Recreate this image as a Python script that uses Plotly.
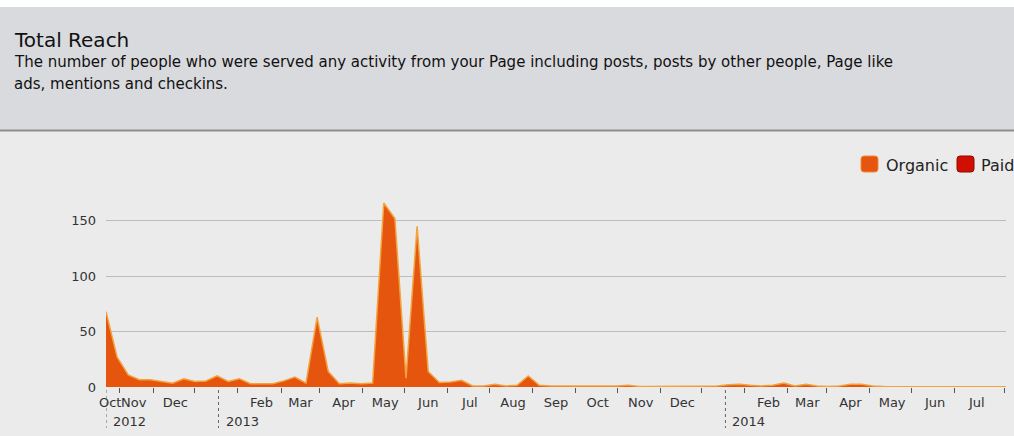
import pandas as pd
import plotly.graph_objects as go

# ---------------- data ----------------
start_date = "2012-10-12"
organic = [68, 27, 11, 6.5, 6.5, 5, 3.5, 7.5, 5, 5.5, 10, 5, 7.5, 3, 3, 3, 5.5, 9, 3.5, 63,
           14, 3, 3.5, 3, 3.5, 166, 152, 8, 145, 14, 4, 4.5, 6, 1, 1, 2.5, 1, 1.5, 10, 1.5,
           1, 1, 0.5, 1, 0.5, 0.5, 1, 1.5, 0.5, 0.5, 0.5, 1, 0.5, 0.5, 0.5, 1, 2, 2.5, 1.5, 1,
           1.5, 3.5, 1, 2.5, 1, 0.5, 1, 2.5, 2.5, 1, 0.5, 0.5, 0.5, 0.5, 0.3, 0.3, 0.3, 0.3, 0.3, 0.3,
           0.3, 0.3]
dates = pd.date_range(start_date, periods=len(organic), freq="8D")

x_range = ["2012-10-12", "2014-07-22"]
month_label_dates = ["2012-10-15", "2012-11-01", "2012-12-01", "2013-02-01", "2013-03-01",
                     "2013-04-01", "2013-05-01", "2013-06-01", "2013-07-01", "2013-08-01",
                     "2013-09-01", "2013-10-01", "2013-11-01", "2013-12-01", "2014-02-01",
                     "2014-03-01", "2014-04-01", "2014-05-01", "2014-06-01", "2014-07-01"]
month_labels = ["Oct", "Nov", "Dec", "Feb", "Mar", "Apr", "May", "Jun", "Jul", "Aug", "Sep",
                "Oct", "Nov", "Dec", "Feb", "Mar", "Apr", "May", "Jun", "Jul"]
tick_mark_dates = ["2012-10-22", "2012-11-15", "2012-12-15", "2013-01-15", "2013-02-15",
                   "2013-03-15", "2013-04-15", "2013-05-15", "2013-06-15", "2013-07-15",
                   "2013-08-15", "2013-09-15", "2013-10-15", "2013-11-15", "2013-12-15",
                   "2014-01-15", "2014-02-15", "2014-03-15", "2014-04-15", "2014-05-15",
                   "2014-06-15", "2014-07-21"]
year_dates = ["2012-10-12", "2013-01-01", "2014-01-01"]
year_labels = ["2012", "2013", "2014"]
y_ticks = [0, 50, 100, 150]
legend_names = ["Organic", "Paid"]

title = "Total Reach"
subtitle1 = ("The number of people who were served any activity from your Page including posts, "
             "posts by other people, Page like")
subtitle2 = "ads, mentions and checkins."

# ---------------- layout helpers ----------------
W, H = 1014, 436
L, R, T, B = 106, 8, 193, 49
PW, PH = W - L - R, H - T - B
FONT = "DejaVu Sans, Liberation Sans, Arial"


def px(x):
    return (x - L) / PW


def py(y):
    return (H - B - y) / PH


def rrect(x0, y0, x1, y1, r):
    return (f"M {px(x0 + r)} {py(y0)} L {px(x1 - r)} {py(y0)} Q {px(x1)} {py(y0)} {px(x1)} {py(y0 + r)} "
            f"L {px(x1)} {py(y1 - r)} Q {px(x1)} {py(y1)} {px(x1 - r)} {py(y1)} "
            f"L {px(x0 + r)} {py(y1)} Q {px(x0)} {py(y1)} {px(x0)} {py(y1 - r)} "
            f"L {px(x0)} {py(y0 + r)} Q {px(x0)} {py(y0)} {px(x0 + r)} {py(y0)} Z")


ORANGE = "#e6550d"
ORANGE_EDGE = "#f3a23e"
RED = "#d10f00"

fig = go.Figure()
fig.add_trace(go.Scatter(
    x=dates, y=organic, mode="lines", fill="tozeroy",
    fillcolor=ORANGE, line=dict(color=ORANGE_EDGE, width=1.5),
    name=legend_names[0], showlegend=False,
))

shapes = [
    # header band
    dict(type="rect", xref="paper", yref="paper", x0=px(0), x1=px(W), y0=py(7), y1=py(130),
         fillcolor="#d9dadd", line=dict(width=0), layer="below"),
    dict(type="rect", xref="paper", yref="paper", x0=px(0), x1=px(W), y0=py(0), y1=py(7),
         fillcolor="#ffffff", line=dict(width=0), layer="below"),
    dict(type="line", xref="paper", yref="paper", x0=px(0), x1=px(W), y0=py(130.5), y1=py(130.5),
         line=dict(color="#8e8e8e", width=2)),
    # legend swatches
    dict(type="path", xref="paper", yref="paper", path=rrect(861, 156, 878, 172, 3),
         fillcolor=ORANGE, line=dict(color="#f08a3a", width=1)),
    dict(type="path", xref="paper", yref="paper", path=rrect(957, 156, 974, 172, 3),
         fillcolor=RED, line=dict(color="#8a0c00", width=1)),
]
for d in year_dates:
    shapes.append(dict(type="line", xref="x", yref="paper", x0=d, x1=d, y0=py(390), y1=py(428),
                       line=dict(color="#666666", width=1, dash="dot")))

annotations = [
    dict(text=title, xref="paper", yref="paper", x=px(12), y=py(40), xanchor="left", yanchor="middle",
         showarrow=False, font=dict(family=FONT, size=20, color="#111111")),
    dict(text=subtitle1, xref="paper", yref="paper", x=px(12), y=py(62), xanchor="left", yanchor="middle",
         showarrow=False, font=dict(family=FONT, size=15, color="#111111")),
    dict(text=subtitle2, xref="paper", yref="paper", x=px(12), y=py(83.5), xanchor="left", yanchor="middle",
         showarrow=False, font=dict(family=FONT, size=15, color="#111111")),
    dict(text=legend_names[0], xref="paper", yref="paper", x=px(884), y=py(165), xanchor="left",
         yanchor="middle", showarrow=False, font=dict(family=FONT, size=16, color="#222")),
    dict(text=legend_names[1], xref="paper", yref="paper", x=px(979), y=py(165), xanchor="left",
         yanchor="middle", showarrow=False, font=dict(family=FONT, size=16, color="#222")),
]
for d, lab in zip(year_dates, year_labels):
    annotations.append(dict(text=lab, xref="x", yref="paper", x=d, y=py(421), xanchor="left",
                            yanchor="middle", xshift=5, showarrow=False,
                            font=dict(family=FONT, size=13, color="#333")))

fig.update_layout(
    width=W, height=H,
    margin=dict(l=L, r=R, t=T, b=B, pad=0),
    paper_bgcolor="#ebebeb", plot_bgcolor="#ebebeb",
    showlegend=False,
    shapes=shapes, annotations=annotations,
    font=dict(family=FONT, size=13, color="#333"),
    xaxis=dict(
        type="date", range=x_range, showgrid=False, zeroline=False, showline=False,
        tickmode="array", tickvals=month_label_dates, ticktext=month_labels, ticks="",
        tickangle=0,
        tickfont=dict(family=FONT, size=13, color="#333"), ticklabelstandoff=6,
        minor=dict(tickmode="array", tickvals=tick_mark_dates, ticks="outside", ticklen=5,
                   tickcolor="#555", tickwidth=1, showgrid=False),
    ),
    yaxis=dict(
        range=[0, 175], tickmode="array", tickvals=y_ticks, showgrid=True, gridcolor="#bdbdbd",
        gridwidth=1, zeroline=False, showline=False, ticks="",
        tickfont=dict(family=FONT, size=13, color="#333"), ticklabelstandoff=9,
    ),
)

fig.write_html("out.html", config={"displayModeBar": False},
               post_script="document.body.style.margin='0px';")
